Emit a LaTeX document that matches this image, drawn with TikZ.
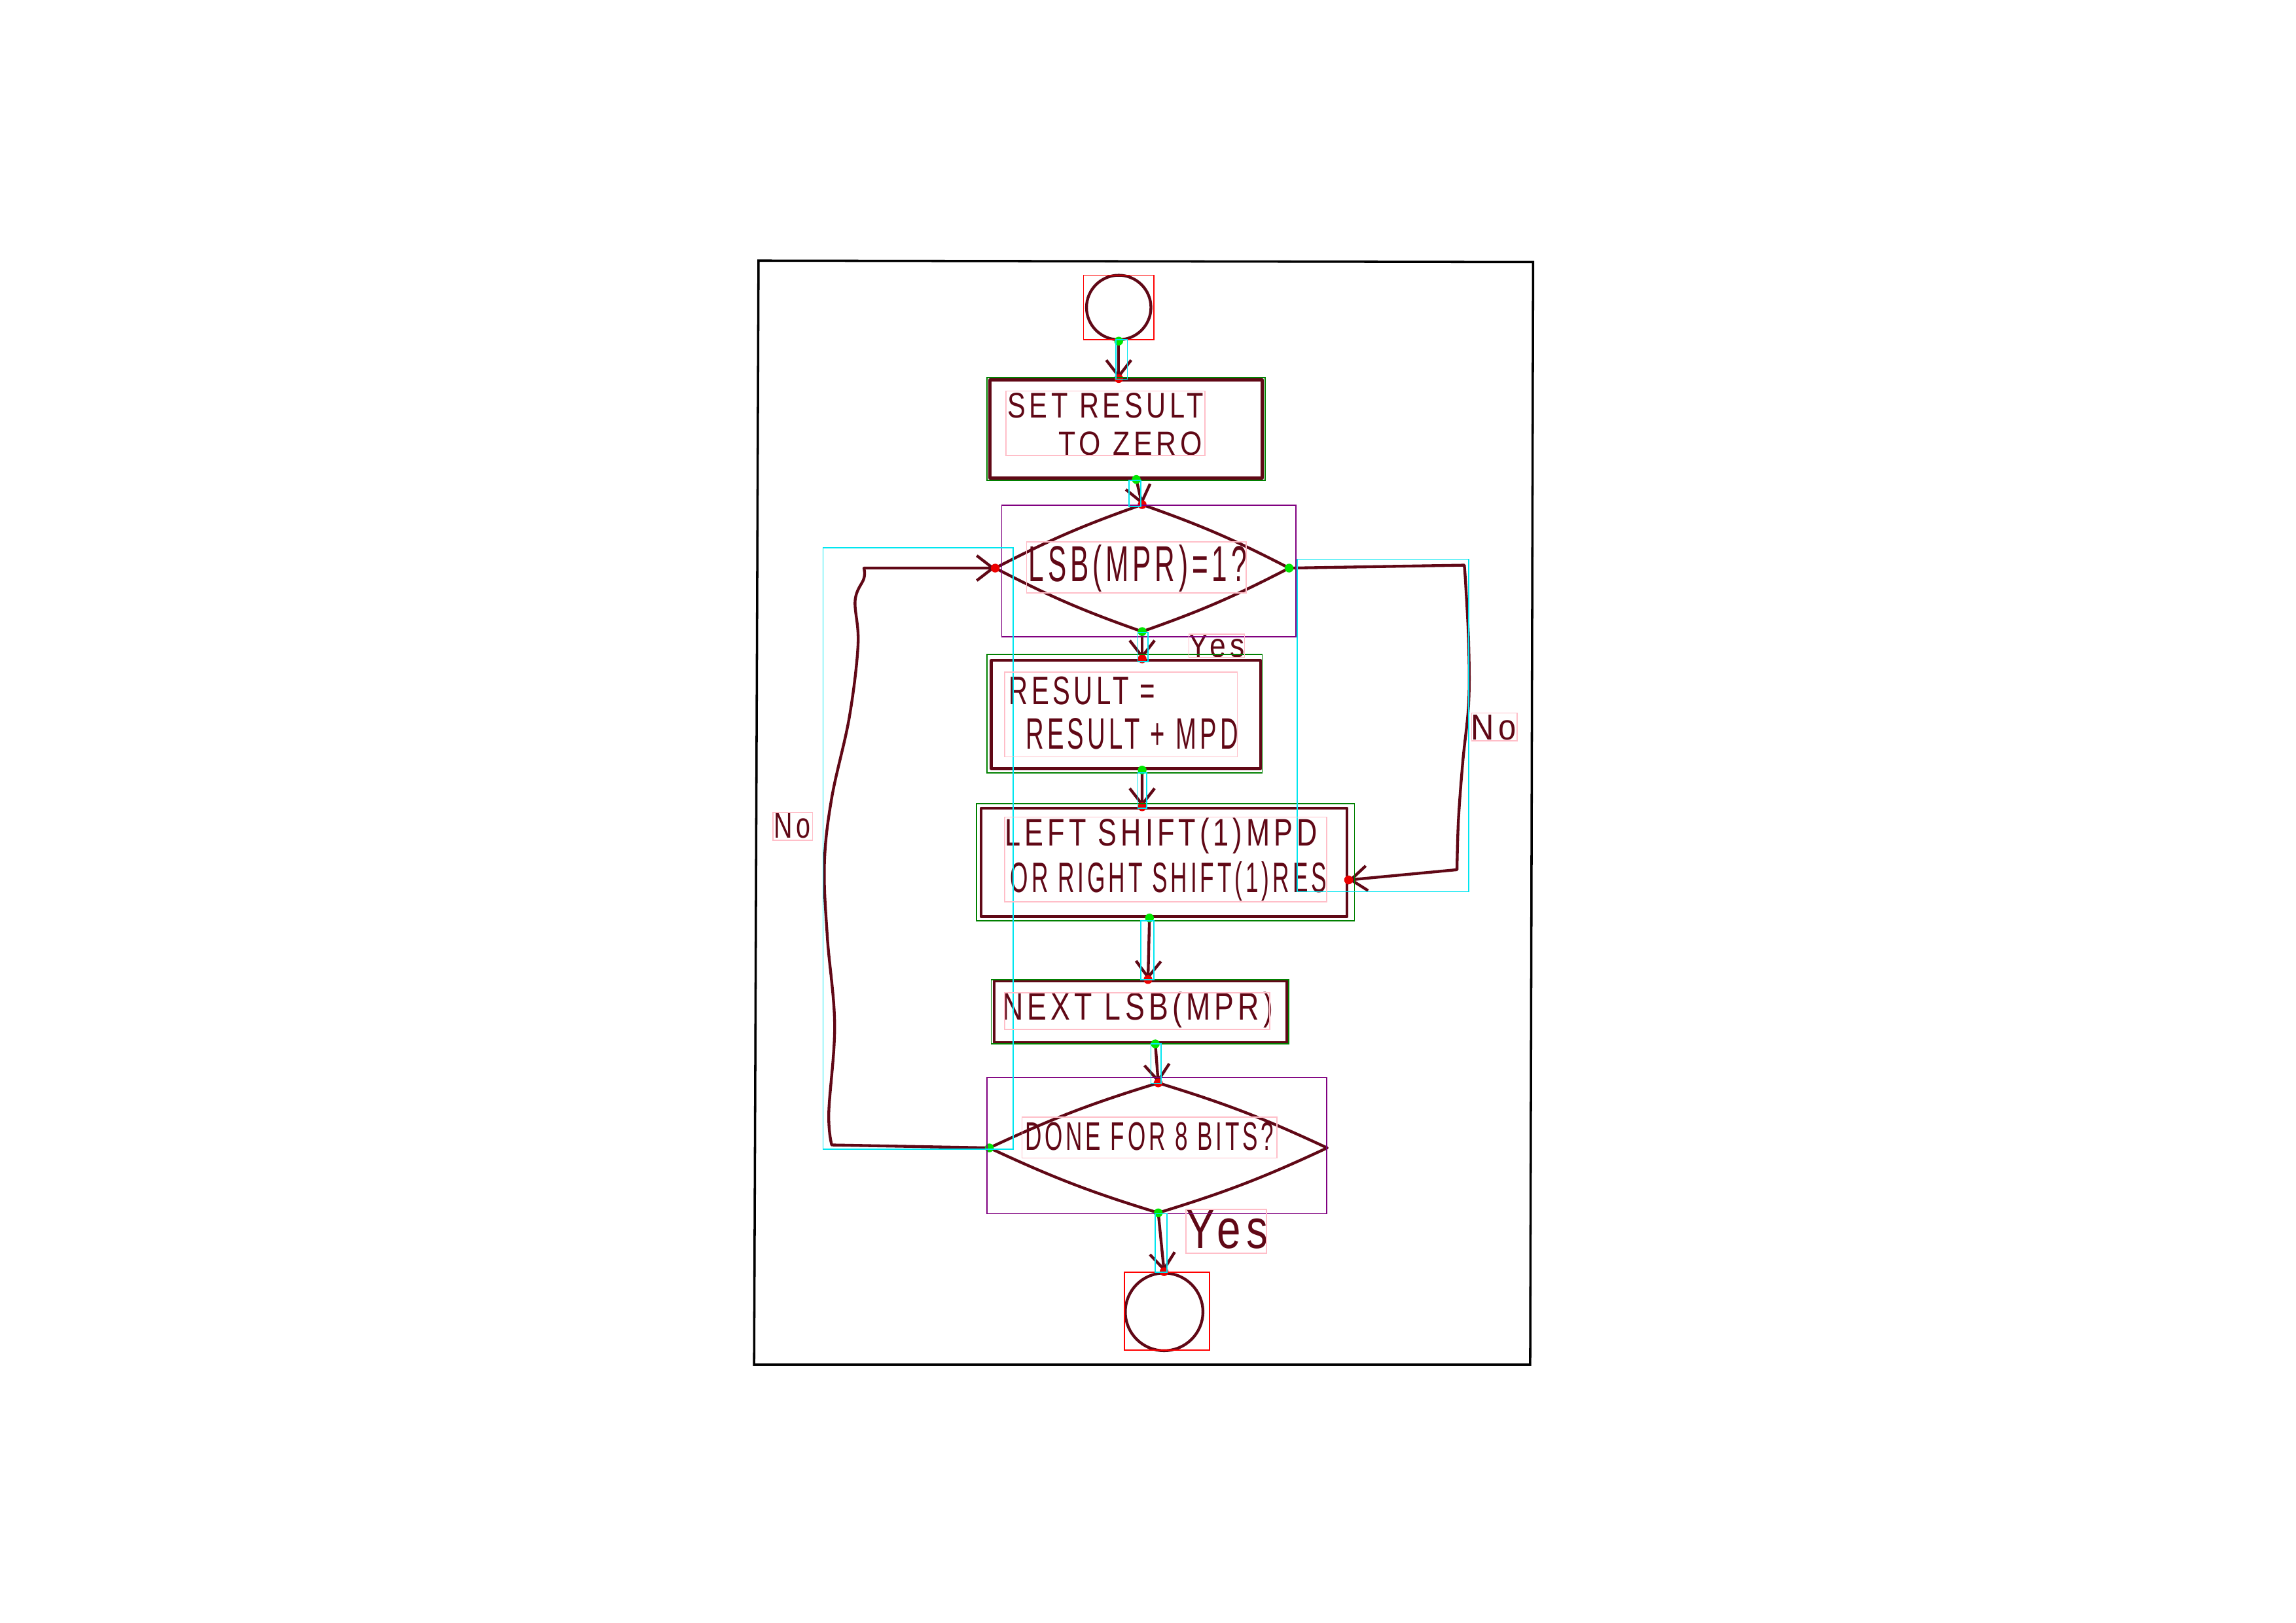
\documentclass[tikz,border=0pt]{standalone}
\usepackage{graphicx}
\usepackage{fontspec}
\setmainfont{Liberation Sans}
\newfontfamily\handfont{Liberation Sans}[LetterSpace=14]
\usetikzlibrary{arrows.meta,shapes.geometric}

\definecolor{ink}{RGB}{96,8,22}
\definecolor{bbred}{RGB}{255,0,0}
\definecolor{bbgreen}{RGB}{0,128,0}
\definecolor{bbpurple}{RGB}{128,0,128}
\definecolor{bbcyan}{RGB}{0,230,240}
\definecolor{bbpink}{RGB}{255,190,200}
\definecolor{dotgreen}{RGB}{0,230,0}
\definecolor{dotred}{RGB}{235,0,0}

% hand-lettered text squeezed to a given width and cap height
\newcommand{\handtext}[3]{\resizebox{#1}{#2}{\handfont #3}}
% small markers at both ends of a connector
\newcommand{\linkmarks}[2]{\fill[dotgreen] (#1) circle (0.6mm); \fill[dotred] (#2) circle (0.6mm);}
% decision outline with slightly bulging sides
\newcommand{\lens}[1]{\draw[inkline] (#1.north) to[bend left=4] (#1.east) to[bend left=4] (#1.south) to[bend left=4] (#1.west) to[bend left=4] (#1.north);}

\begin{document}
\begin{tikzpicture}[x=0.2mm,y=-0.2mm,
  inkline/.style={draw=ink,line width=1.1pt,line cap=round,line join=round},
  proc/.style={inkline,rectangle,inner sep=0pt},
  decis/.style={diamond,inner sep=0pt},
  term/.style={inkline,circle,inner sep=0pt},
  txt/.style={inner sep=0pt,text=ink},
  arr/.style={inkline,-{Straight Barb[length=2.2mm,width=3.4mm]}},
  bb/.style={line width=0.4pt}]

\useasboundingbox (0,0) rectangle (1568,1108.5);
\fill[white] (0,0) rectangle (1568,1108.5);

% sheet border
\draw[black,line width=0.9pt] (518,178) -- (1047,179) -- (1045,932) -- (515,932) -- cycle;

% shapes
\node[term,minimum size=8.8mm] (start) at (764,210) {};
\node[proc,minimum width=37.2mm,minimum height=13.4mm] (set) at (769,293) {};
\node[decis,minimum width=40mm,minimum height=17.2mm] (d1) at (780,388) {};
\node[proc,minimum width=36.8mm,minimum height=14.8mm] (res) at (769,488) {};
\node[proc,minimum width=50mm,minimum height=14.8mm] (shift) at (795,589) {};
\node[proc,minimum width=40mm,minimum height=8.4mm] (nxt) at (779,691) {};
\node[decis,minimum width=46mm,minimum height=17.6mm] (d2) at (791,784) {};
\node[term,minimum size=10.6mm] (stop) at (795,896) {};
\lens{d1}
\lens{d2}

% texts
\node[txt] (setA) at (755,277) {\handtext{26.8mm}{3.4mm}{SET RESULT}};
\node[txt] (setB) at (772,303) {\handtext{19.6mm}{3.2mm}{TO ZERO}};
\node[txt] (d1t) at (777,388) {\handtext{29.8mm}{5mm}{LSB(MPR)=1?}};
\node[txt] (resA) at (739,472) {\handtext{20mm}{3.8mm}{RESULT =}};
\node[txt] (resB) at (773,501) {\handtext{29mm}{4.2mm}{RESULT + MPD}};
\node[txt] (shA) at (793,571) {\handtext{42.6mm}{3.8mm}{LEFT SHIFT(1)MPD}};
\node[txt] (shB) at (798,602) {\handtext{43.2mm}{4.2mm}{OR RIGHT SHIFT(1)RES}};
\node[txt] (nxtt) at (777,690) {\handtext{37mm}{3.8mm}{NEXT LSB(MPR)}};
\node[txt] (d2t) at (785,776) {\handtext{34mm}{3.8mm}{DONE FOR 8 BITS?}};
\node[txt] (yes1) at (831,441) {\handtext{7.6mm}{3.2mm}{Yes}};
\node[txt] (yes2) at (838,840) {\handtext{11.2mm}{5.2mm}{Yes}};
\node[txt] (noL) at (541,564) {\handtext{5mm}{3.4mm}{No}};
\node[txt] (noR) at (1020,497) {\handtext{6.2mm}{3.4mm}{No}};

% main flow
\draw[arr] (start.south) -- (start.south |- set.north);
\draw[arr] ([xshift=1.4mm]set.south) -- (d1.north);
\draw[arr] (d1.south) -- (d1.south |- res.north);
\draw[arr] ([xshift=2.2mm]res.south) -- ([xshift=-3mm]shift.north);
\draw[arr] ([xshift=-2mm]shift.south) -- ([xshift=1mm]nxt.north);
\draw[arr] ([xshift=2mm]nxt.south) -- (d2.north);
\draw[arr] (d2.south) -- (stop.north);

% loop back when not done
\coordinate (lbot) at (568,782);
\coordinate (ltop) at (590,388);
\draw[arr] (d2.west) -- (lbot)
  -- plot[smooth,tension=0.6] coordinates {(lbot) (566,760) (570,700) (565,640) (563,590) (568,545) (580,490) (586,440) (584,410) (590,395) (ltop)}
  -- (d1.west);

% skip the addition when the bit is zero
\coordinate (rtop) at (1000,386);
\coordinate (rbot) at (995,594);
\draw[arr] (d1.east) -- (rtop)
  -- plot[smooth,tension=0.6] coordinates {(rtop) (1001,400) (1003,440) (1003,480) (999,520) (996,560) (rbot)}
  -- ([yshift=-2.4mm]shift.east);

% connector end markers
\linkmarks{start.south}{start.south |- set.north}
\linkmarks{[xshift=1.4mm]set.south}{d1.north}
\linkmarks{d1.south}{d1.south |- res.north}
\linkmarks{[xshift=2.2mm]res.south}{[xshift=-3mm]shift.north}
\linkmarks{[xshift=-2mm]shift.south}{[xshift=1mm]nxt.north}
\linkmarks{[xshift=2mm]nxt.south}{d2.north}
\linkmarks{d2.south}{stop.north}
\linkmarks{d2.west}{d1.west}
\linkmarks{d1.east}{[yshift=-2.4mm]shift.east}

% bounding frames
\draw[bb,bbred] (740,188) rectangle (788,232);
\draw[bb,bbred] (768,869) rectangle (826,922);
\draw[bb,bbgreen] (674,258) rectangle (864,328);
\draw[bb,bbgreen] (674,447) rectangle (862,528);
\draw[bb,bbgreen] (667,549) rectangle (925,629);
\draw[bb,bbgreen] (677,669) rectangle (880,713);
\draw[bb,bbpurple] (684,345) rectangle (885,435);
\draw[bb,bbpurple] (674,736) rectangle (906,829);
\draw[bb,bbcyan] (762,232) rectangle (770,259);
\draw[bb,bbcyan] (771,328) rectangle (779,346);
\draw[bb,bbcyan] (777,432) rectangle (784,452);
\draw[bb,bbcyan] (777,528) rectangle (783,552);
\draw[bb,bbcyan] (779,629) rectangle (788,669);
\draw[bb,bbcyan] (786,713) rectangle (793,740);
\draw[bb,bbcyan] (789,829) rectangle (797,869);
\draw[bb,bbcyan] (562,374) rectangle (692,785);
\draw[bb,bbcyan] (886,382) rectangle (1003,609);
\draw[bb,bbpink] (687,267) rectangle (823,311);
\draw[bb,bbpink] (701,370) rectangle (851,405);
\draw[bb,bbpink] (812,433) rectangle (850,449);
\draw[bb,bbpink] (686,459) rectangle (845,517);
\draw[bb,bbpink] (686,558) rectangle (906,616);
\draw[bb,bbpink] (686,678) rectangle (867,703);
\draw[bb,bbpink] (698,763) rectangle (872,791);
\draw[bb,bbpink] (810,826) rectangle (865,856);
\draw[bb,bbpink] (528,555) rectangle (555,574);
\draw[bb,bbpink] (1005,487) rectangle (1036,506);
\end{tikzpicture}
\end{document}
